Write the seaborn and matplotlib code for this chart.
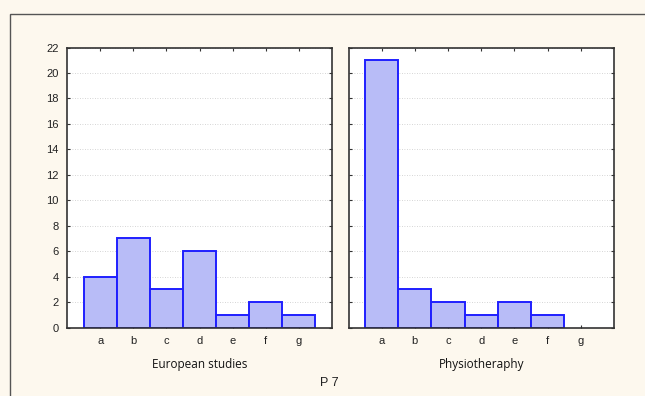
"""
Histogram of answers to question P 7, two study programmes side by side.
"""

import matplotlib
matplotlib.use('Agg')
import matplotlib.pyplot as plt
import seaborn as sns
import pandas as pd
from matplotlib.patches import Rectangle

# Data
categorias = ['a', 'b', 'c', 'd', 'e', 'f', 'g']
european_studies = [4, 7, 3, 6, 1, 2, 1]
physiotheraphy = [21, 3, 2, 1, 2, 1, 0]
grupos = ['European studies', 'Physiotheraphy']
titulo = 'P 7'
yticks = list(range(0, 23, 2))

# Style
sns.set_style('white')
plt.rcParams['font.family'] = ['Liberation Sans', 'DejaVu Sans']

fondo = '#fdf8ee'
relleno = '#b8bcf7'
borde = '#1f1fff'

df = pd.DataFrame({
    'categoria': categorias * 2,
    'valor': european_studies + physiotheraphy,
    'grupo': [grupos[0]] * len(categorias) + [grupos[1]] * len(categorias),
})

W, H = 645, 396
fig = plt.figure(figsize=(W / 100, H / 100), dpi=100)
fig.patch.set_facecolor(fondo)

# marco exterior (solo se ven los bordes superior e izquierdo)
fig.patches.append(Rectangle((10 / W, -0.1), 1.2, 1 - 14 / H + 0.1,
                             transform=fig.transFigure, fill=False,
                             edgecolor='#555555', linewidth=1.0))

ax_bottom = 1 - 327.5 / H
ax_h = (327.5 - 47.5) / H
posiciones = [(67 / W, 332 / W), (348.5 / W, 614 / W)]

for i, grupo in enumerate(grupos):
    x0, x1 = posiciones[i]
    ax = fig.add_axes([x0, ax_bottom, x1 - x0, ax_h])
    ax.set_facecolor('white')
    sub = df[df['grupo'] == grupo]
    sns.barplot(data=sub, x='categoria', y='valor', order=categorias, ax=ax,
                color=relleno, saturation=1, width=1.0,
                edgecolor=borde, linewidth=1.4)
    # barras de altura cero no se dibujan
    for p in ax.patches:
        if p.get_height() == 0:
            p.set_visible(False)
    ax.set_xlim(-1, 7)
    ax.set_ylim(0, 22)
    ax.set_yticks(yticks)
    ax.yaxis.grid(True, linestyle=(0, (1, 2)), color='#c8c8c8', linewidth=0.6)
    ax.set_axisbelow(True)
    ax.tick_params(direction='in', length=2.5, width=0.8, color='#333333',
                   top=True, right=True, left=True, bottom=True,
                   labelsize=8, labelcolor='#222222', pad=6)
    if i == 1:
        ax.tick_params(labelleft=False)
    for s in ax.spines.values():
        s.set_color('#333333')
        s.set_linewidth(1.2)
        s.set_visible(True)
    ax.set_ylabel('')
    ax.set_xlabel(grupo, fontsize=8.5, family=['Open Sans', 'DejaVu Sans'],
                  color='#111111', labelpad=9)

fig.text(329 / W, 1 - 383 / H, titulo, ha='center', va='center',
         fontsize=9, color='#222222')

fig.savefig('out.png', dpi=100, facecolor=fondo)
